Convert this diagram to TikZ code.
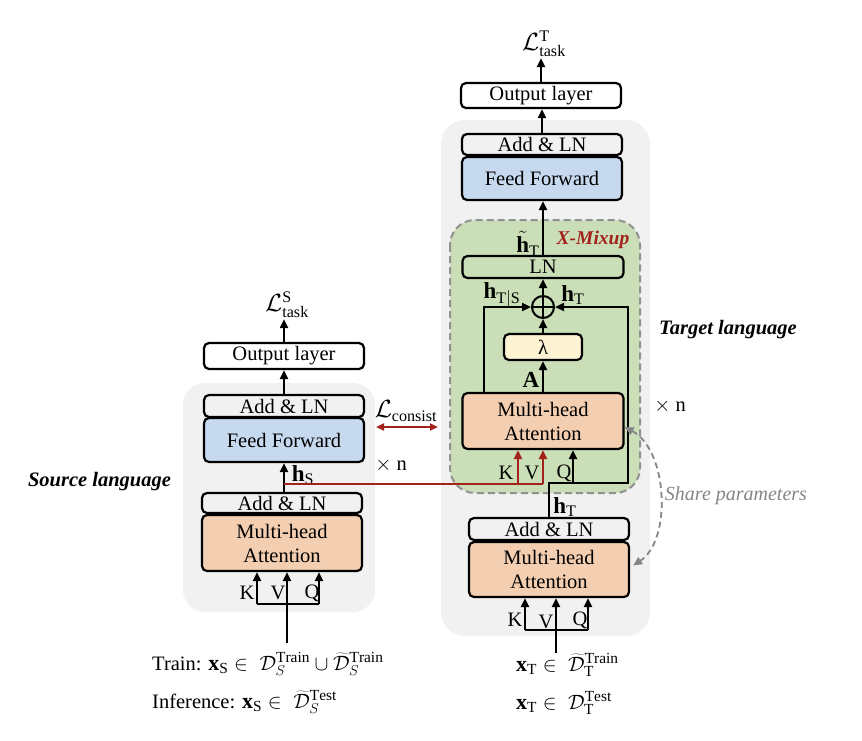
\documentclass[tikz,border=0pt]{standalone}
\usepackage{fontspec}
\setmainfont{Liberation Serif}
\usetikzlibrary{arrows.meta,calc}
\definecolor{bggray}{HTML}{F1F1F1}
\definecolor{mixgreen}{HTML}{CADFB8}
\definecolor{attorange}{HTML}{F3CEB0}
\definecolor{ffblue}{HTML}{C6D9EE}
\definecolor{lamyellow}{HTML}{FDF2D2}
\definecolor{xred}{HTML}{A3231C}
\definecolor{sharegray}{HTML}{858585}
\newcommand{\bigmath}{\fontsize{23}{26}\selectfont}
\newcommand{\botmath}{\fontsize{22}{25}\selectfont}
\begin{document}
\begin{tikzpicture}[x=1pt,y=-1pt,font=\fontsize{20.5}{24}\selectfont,
  blk/.style={draw, line width=2.2pt, rounded corners=5pt, inner sep=0pt, align=center, minimum width=160pt},
  tip/.style={-{Triangle[length=9pt,width=8pt]}},
  arr/.style={line width=2.2pt, tip},
  ln/.style={line width=2.2pt},
  redarr/.style={line width=2.2pt, xred, -{Triangle[length=9pt,width=8pt]}},
  lang/.style={font=\fontsize{20.5}{24}\selectfont\bfseries\itshape},
  mlbl/.style={font=\bigmath, inner sep=1pt},
  txt/.style={inner sep=0pt, anchor=west},
]
\useasboundingbox (0,0) rectangle (862,740);

% background regions
\fill[bggray, rounded corners=22pt] (183,383) rectangle (375,612);
\fill[bggray, rounded corners=24pt] (441,120) rectangle (650,636);
\draw[fill=mixgreen, draw=sharegray!90, line width=2pt, dash pattern=on 7pt off 4pt, rounded corners=25pt] (450,220) rectangle (640,493);

% ---------- source side ----------
\node[blk, fill=white, minimum height=26pt] (outS) at (284,356) {Output layer};
\node[blk, minimum height=22pt] (addS1) at (284,406) {Add \& LN};
\node[blk, fill=ffblue, minimum height=44pt] (ffS) at (284,440) {Feed Forward};
\node[blk, minimum height=20pt] (addS2) at (282,503) {Add \& LN};
\node[blk, fill=attorange, minimum height=56pt] (mhaS) at (282,543) {Multi-head\\Attention};
\node[mlbl] (LS) at (287,305) {$\mathcal{L}^{\mathrm{S}}_{\mathrm{task}}$};
\node[mlbl] (hS) at (303,475) {$\mathbf{h}_{\mathrm{S}}$};
\node (xnS) at (391,465) {$\times$ n};
\node[mlbl] (Lc) at (406,411) {$\mathcal{L}_{\mathrm{consist}}$};
\node[lang] (srcl) at (99.5,482) {Source language};
\node (kSl) at (247,593) {K};
\node (vSl) at (278,593) {V};
\node (qSl) at (312,593) {Q};
\node[txt] (trainS) at (152,664) {Train: {\botmath$\mathbf{x}_{\mathrm{S}} \in\; \mathcal{D}_S^{\mathrm{Train}} \cup \widetilde{\mathcal{D}}_S^{\mathrm{Train}}$}};
\node[txt] (infS) at (152,702) {Inference: {\botmath$\mathbf{x}_{\mathrm{S}} \in\; \widetilde{\mathcal{D}}_S^{\mathrm{Test}}$}};

\coordinate (kS) at (257,604);
\coordinate (qS) at (319,604);
\coordinate (vS) at (287,643);
\coordinate (hsP) at (284,484);
\coordinate (lcL) at (376,427);
\coordinate (lcR) at (438,427);

\draw[arr] (outS.north) -- (outS.north |- LS.south);
\draw[arr] (addS1.north) -- (outS.south);
\draw[arr] (hsP |- addS2.north) -- (hsP |- ffS.south);
\draw[ln] (kS) -- (qS);
\draw[arr] (kS) -- (kS |- mhaS.south);
\draw[arr] (qS) -- (qS |- mhaS.south);
\draw[arr] (vS) -- (vS |- mhaS.south);
\draw[line width=2pt, xred, {Triangle[length=8pt,width=7pt]}-{Triangle[length=8pt,width=7pt]}] (lcL) -- (lcR);

% ---------- target side ----------
\node[blk, fill=white, minimum height=25pt] (outT) at (541,95.5) {Output layer};
\node[blk, minimum height=21pt] (addT1) at (542,144.5) {Add \& LN};
\node[blk, fill=ffblue, minimum height=43pt] (ffT) at (542,178.5) {Feed Forward};
\node[blk, minimum height=22pt, minimum width=161pt] (lnT) at (543,267) {LN};
\node[draw, circle, line width=2pt, minimum size=22pt, inner sep=0pt] (plus) at (543,307) {};
\node[blk, fill=lamyellow, minimum width=78pt, minimum height=26pt] (lam) at (543,347) {λ};
\node[blk, fill=attorange, minimum width=161pt, minimum height=56pt] (mhaT1) at (543,421) {Multi-head\\Attention};
\node[blk, minimum height=22pt] (addT2) at (549,529) {Add \& LN};
\node[blk, fill=attorange, minimum height=55pt] (mhaT2) at (549,569.5) {Multi-head\\Attention};

\node[mlbl] (LT) at (544,44) {$\mathcal{L}^{\mathrm{T}}_{\mathrm{task}}$};
\node[font=\fontsize{19.5}{22}\selectfont\bfseries\itshape, text=xred] (xmix) at (593,240) {X-Mixup};
\node[mlbl] (htil) at (528,244) {$\tilde{\mathbf{h}}_{\mathrm{T}}$};
\node[mlbl] (hts) at (502,295) {$\mathbf{h}_{\mathrm{T|S}}$};
\node[mlbl] (htr) at (573,295) {$\mathbf{h}_{\mathrm{T}}$};
\node[mlbl] (Albl) at (531,380) {$\mathbf{A}$};
\node (kTl) at (506,473) {K};
\node (vTl) at (532,473) {V};
\node (qTl) at (564,473) {Q};
\node[mlbl] (htb) at (565,507) {$\mathbf{h}_{\mathrm{T}}$};
\node (xnT) at (670,406) {$\times$ n};
\node[lang] (tgtl) at (728,330) {Target language};
\node[font=\fontsize{20}{24}\selectfont\itshape, text=sharegray] (share) at (736,496) {Share parameters};
\node (kT2l) at (515,620) {K};
\node (vT2l) at (546,622) {V};
\node (qT2l) at (580,620) {Q};
\node[txt] (trainT) at (516,665) {\botmath$\mathbf{x}_{\mathrm{T}} \in\; \widetilde{\mathcal{D}}_{\mathrm{T}}^{\mathrm{Train}}$};
\node[txt] (infT) at (516,703) {\botmath$\mathbf{x}_{\mathrm{T}} \in\; \mathcal{D}_{\mathrm{T}}^{\mathrm{Test}}$};

\draw[line width=2pt] (plus.north) -- (plus.south) (plus.west) -- (plus.east);
\draw[arr] (outT.north) -- (outT.north |- LT.south);
\draw[arr] (addT1.north) -- (addT1.north |- outT.south);
\draw[arr] (lnT.north) -- (lnT.north |- ffT.south);
\draw[arr] (plus.north) -- (lnT.south);
\draw[arr] (lam.north) -- (plus.south);
\draw[arr] (mhaT1.north) -- (lam.south);
\draw[arr] ([xshift=-59pt]mhaT1.north) |- (plus.west);

\coordinate (rc) at (628,483);
\coordinate (q1) at (573,483);
\draw[arr] (addT2.north) |- (rc) |- (plus.east);
\draw[arr] (q1) -- (q1 |- mhaT1.south);

% red source-to-target connection
\coordinate (kT1) at (518,484);
\coordinate (vT1) at (543,484);
\draw[line width=2.2pt, xred] (hsP) -- (vT1);
\draw[redarr] (kT1) -- (kT1 |- mhaT1.south);
\draw[redarr] (vT1) -- (vT1 |- mhaT1.south);

% lower target KVQ
\coordinate (kT2) at (525,630);
\coordinate (qT2) at (588,630);
\coordinate (vT2) at (556,653);
\draw[ln] (kT2) -- (qT2);
\draw[arr] (kT2) -- (kT2 |- mhaT2.south);
\draw[arr] (qT2) -- (qT2 |- mhaT2.south);
\draw[arr] (vT2) -- (vT2 |- mhaT2.south);

% share parameters
\draw[sharegray, line width=1.8pt, dash pattern=on 6pt off 4pt, {Triangle[length=9pt,width=8pt]}-{Triangle[length=9pt,width=8pt]}]
  ([yshift=-6pt]mhaT1.east) .. controls (668,450) and (672,540) .. ([xshift=3pt,yshift=4pt]mhaT2.east);
\end{tikzpicture}
\end{document}
